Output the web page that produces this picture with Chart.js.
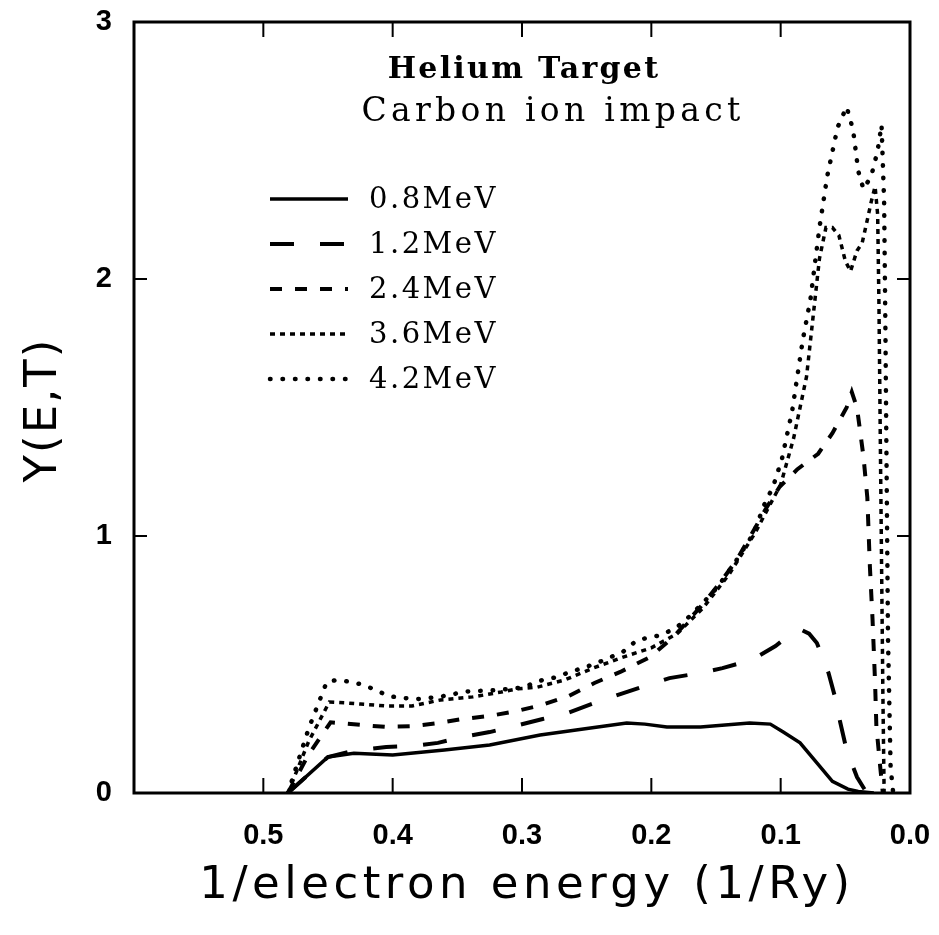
<!DOCTYPE html>
<html>
<head>
<meta charset="utf-8">
<script src="https://cdn.jsdelivr.net/npm/chart.js@4.4.1/dist/chart.umd.min.js"></script>
<style>
  html, body { margin: 0; padding: 0; background: #fff; }
  #wrap { width: 939px; height: 935px; }
</style>
</head>
<body>
<div id="wrap"><canvas id="yet-chart" width="939" height="935"></canvas></div>
<script>
// 1/electron energy (1/Ry) vs Y(E,T)
const x08 = [0.481, 0.45, 0.43, 0.40, 0.36, 0.325, 0.286, 0.247, 0.219, 0.205, 0.188, 0.162, 0.124, 0.108, 0.098, 0.085, 0.072, 0.060, 0.048, 0.040, 0.032, 0.028];
const y08 = [0, 0.14, 0.155, 0.148, 0.167, 0.187, 0.226, 0.253, 0.272, 0.268, 0.257, 0.257, 0.272, 0.268, 0.237, 0.195, 0.117, 0.045, 0.015, 0.006, 0.002, 0];

const x12 = [0.481, 0.45, 0.43, 0.405, 0.385, 0.365, 0.346, 0.325, 0.305, 0.284, 0.265, 0.244, 0.224, 0.203, 0.186, 0.162, 0.145, 0.122, 0.104, 0.092, 0.084, 0.078, 0.072, 0.063, 0.058, 0.054, 0.049, 0.041, 0.034, 0.028];
const y12 = [0, 0.14, 0.165, 0.179, 0.183, 0.195, 0.218, 0.237, 0.261, 0.288, 0.311, 0.35, 0.385, 0.42, 0.447, 0.467, 0.486, 0.518, 0.572, 0.62, 0.635, 0.62, 0.584, 0.467, 0.374, 0.276, 0.167, 0.062, 0.005, 0];

const x24 = [0.481, 0.465, 0.448, 0.425, 0.405, 0.385, 0.365, 0.346, 0.325, 0.304, 0.285, 0.264, 0.244, 0.224, 0.201, 0.183, 0.162, 0.147, 0.134, 0.121, 0.111, 0.101, 0.087, 0.071, 0.060, 0.049, 0.045, 0.041, 0.036, 0.033, 0.031, 0.029, 0.027, 0.026, 0.023, 0.021];
const y24 = [0, 0.15, 0.275, 0.265, 0.257, 0.26, 0.272, 0.288, 0.30, 0.319, 0.342, 0.377, 0.428, 0.471, 0.529, 0.607, 0.724, 0.817, 0.907, 1.02, 1.11, 1.19, 1.26, 1.32, 1.40, 1.50, 1.56, 1.50, 1.31, 1.15, 0.88, 0.68, 0.43, 0.26, 0.10, 0];

const x36 = [0.481, 0.465, 0.449, 0.435, 0.425, 0.406, 0.385, 0.363, 0.338, 0.316, 0.304, 0.288, 0.267, 0.245, 0.224, 0.20, 0.18, 0.16, 0.14, 0.12, 0.10, 0.09, 0.08, 0.075, 0.07, 0.065, 0.06, 0.055, 0.05, 0.046, 0.041, 0.037, 0.033, 0.030, 0.027, 0.025, 0.024, 0.023, 0.022, 0.021, 0.020];
const y36 = [0, 0.2, 0.354, 0.35, 0.346, 0.339, 0.339, 0.362, 0.374, 0.393, 0.405, 0.412, 0.44, 0.486, 0.525, 0.565, 0.62, 0.72, 0.85, 1.01, 1.20, 1.38, 1.62, 1.85, 2.08, 2.2, 2.2, 2.17, 2.07, 2.03, 2.11, 2.14, 2.23, 2.3, 2.36, 2.25, 1.9, 1.4, 0.9, 0.4, 0];

const x42 = [0.481, 0.465, 0.451, 0.443, 0.432, 0.422, 0.413, 0.403, 0.393, 0.38, 0.364, 0.353, 0.343, 0.32, 0.30, 0.284, 0.273, 0.263, 0.253, 0.242, 0.222, 0.211, 0.192, 0.18, 0.172, 0.16, 0.149, 0.134, 0.121, 0.112, 0.106, 0.099, 0.091, 0.083, 0.077, 0.070, 0.064, 0.056, 0.049, 0.044, 0.040, 0.036, 0.030, 0.025, 0.022, 0.020, 0.019, 0.018, 0.017, 0.015, 0.013];
const y42 = [0, 0.25, 0.432, 0.44, 0.432, 0.42, 0.40, 0.377, 0.37, 0.366, 0.374, 0.385, 0.395, 0.40, 0.41, 0.44, 0.451, 0.471, 0.486, 0.506, 0.549, 0.595, 0.615, 0.646, 0.68, 0.74, 0.80, 0.907, 1.01, 1.13, 1.19, 1.30, 1.49, 1.76, 1.92, 2.20, 2.40, 2.59, 2.67, 2.58, 2.42, 2.35, 2.4, 2.5, 2.6, 2.3, 1.8, 1.2, 0.6, 0.1, 0];

const seriesLabels = ['0.8MeV', '1.2MeV', '2.4MeV', '3.6MeV', '4.2MeV'];
const xTicks = [0.5, 0.4, 0.3, 0.2, 0.1, 0.0];
const yTicks = [0, 1, 2, 3];

function toPoints(xs, ys) {
    return xs.map((v, i) => ({ x: v, y: ys[i] }));
}

// line looks per series: solid, long dash, dash, short dash, dots
const styles = [
    { dash: [], width: 3.5, cap: 'butt' },
    { dash: [24, 26], width: 4, cap: 'butt' },
    { dash: [12, 13], width: 4, cap: 'butt' },
    { dash: [5, 5], width: 3.5, cap: 'butt' },
    { dash: [0.5, 12], width: 4.5, cap: 'round' }
];

const allX = [x08, x12, x24, x36, x42];
const allY = [y08, y12, y24, y36, y42];

const datasets = seriesLabels.map((label, i) => ({
    label: label,
    data: toPoints(allX[i], allY[i]),
    showLine: true,
    fill: false,
    borderColor: '#000',
    borderWidth: styles[i].width,
    borderDash: styles[i].dash,
    borderCapStyle: styles[i].cap,
    pointRadius: 0,
    tension: 0
}));

function spacedText(ctx, text, x, y, spacing) {
    ctx.letterSpacing = spacing + 'px';
    ctx.fillText(text, x, y);
    ctx.letterSpacing = '0px';
}

// frame, inward ticks, legend and the texts
const decorPlugin = {
    id: 'decor',
    afterDraw(chart) {
        const ctx = chart.ctx;
        const a = chart.chartArea;
        const xs = chart.scales.x;
        const ys = chart.scales.y;
        ctx.save();
        ctx.strokeStyle = '#000';
        ctx.fillStyle = '#000';
        ctx.setLineDash([]);
        ctx.lineWidth = 3;
        ctx.strokeRect(a.left, a.top, a.right - a.left, a.bottom - a.top);

        ctx.lineWidth = 2;
        ctx.beginPath();
        xTicks.filter(v => v > 0).forEach(v => {
            const px = xs.getPixelForValue(v);
            ctx.moveTo(px, a.bottom);
            ctx.lineTo(px, a.bottom - 15);
            ctx.moveTo(px, a.top);
            ctx.lineTo(px, a.top + 15);
        });
        yTicks.filter(v => v > 0 && v < 3).forEach(v => {
            const py = ys.getPixelForValue(v);
            ctx.moveTo(a.left, py);
            ctx.lineTo(a.left + 13, py);
            ctx.moveTo(a.right, py);
            ctx.lineTo(a.right - 13, py);
        });
        ctx.stroke();

        // legend
        ctx.textBaseline = 'middle';
        ctx.textAlign = 'left';
        ctx.font = '29px "DejaVu Serif"';
        chart.data.datasets.forEach((ds, i) => {
            const yy = 199 + i * 45;
            ctx.beginPath();
            ctx.lineWidth = ds.borderWidth;
            ctx.lineCap = ds.borderCapStyle;
            ctx.setLineDash(ds.borderDash);
            ctx.moveTo(270, yy);
            ctx.lineTo(348, yy);
            ctx.stroke();
            ctx.setLineDash([]);
            spacedText(ctx, ds.label, 369, yy + 1, 2.5);
        });

        // texts
        ctx.textAlign = 'center';
        ctx.textBaseline = 'alphabetic';
        ctx.font = 'bold 30px "DejaVu Serif"';
        spacedText(ctx, 'Helium Target', 524, 78, 2.3);
        ctx.font = '33px "DejaVu Serif"';
        spacedText(ctx, 'Carbon ion impact', 553, 121, 4.3);

        ctx.font = '45px "DejaVu Sans"';
        spacedText(ctx, '1/electron energy (1/Ry)', 527, 898, 4.5);
        ctx.translate(56, 410);
        ctx.rotate(-Math.PI / 2);
        spacedText(ctx, 'Y(E,T)', 0, 0, 2);
        ctx.restore();
    }
};

document.addEventListener('DOMContentLoaded', function() {
    new Chart(document.getElementById('yet-chart'), {
        type: 'scatter',
        data: { datasets: datasets },
        options: {
            responsive: false,
            animation: false,
            layout: { padding: { top: 22, right: 29, left: 0, bottom: 0 } },
            plugins: {
                legend: { display: false },
                tooltip: { enabled: false }
            },
            scales: {
                x: {
                    type: 'linear',
                    reverse: true,
                    min: 0,
                    max: 0.6,
                    grid: { display: false, drawTicks: false },
                    border: { display: false },
                    afterBuildTicks: scale => { scale.ticks = xTicks.map(v => ({ value: v })); },
                    afterFit: scale => {
                        scale.height = 142;
                        scale.paddingLeft = 0;
                        scale.paddingRight = 0;
                    },
                    ticks: {
                        padding: 26,
                        color: '#000',
                        maxRotation: 0,
                        autoSkip: false,
                        font: { family: 'Liberation Sans', size: 29, weight: 'bold' },
                        callback: v => Number(v).toFixed(1)
                    }
                },
                y: {
                    min: 0,
                    max: 3,
                    grid: { display: false, drawTicks: false },
                    border: { display: false },
                    afterBuildTicks: scale => { scale.ticks = yTicks.map(v => ({ value: v })); },
                    afterFit: scale => {
                        scale.width = 134;
                        scale.paddingTop = 0;
                        scale.paddingBottom = 0;
                    },
                    ticks: {
                        padding: 22,
                        color: '#000',
                        autoSkip: false,
                        font: { family: 'Liberation Sans', size: 29, weight: 'bold' },
                        callback: v => String(v)
                    }
                }
            }
        },
        plugins: [decorPlugin]
    });
});
</script>
</body>
</html>
